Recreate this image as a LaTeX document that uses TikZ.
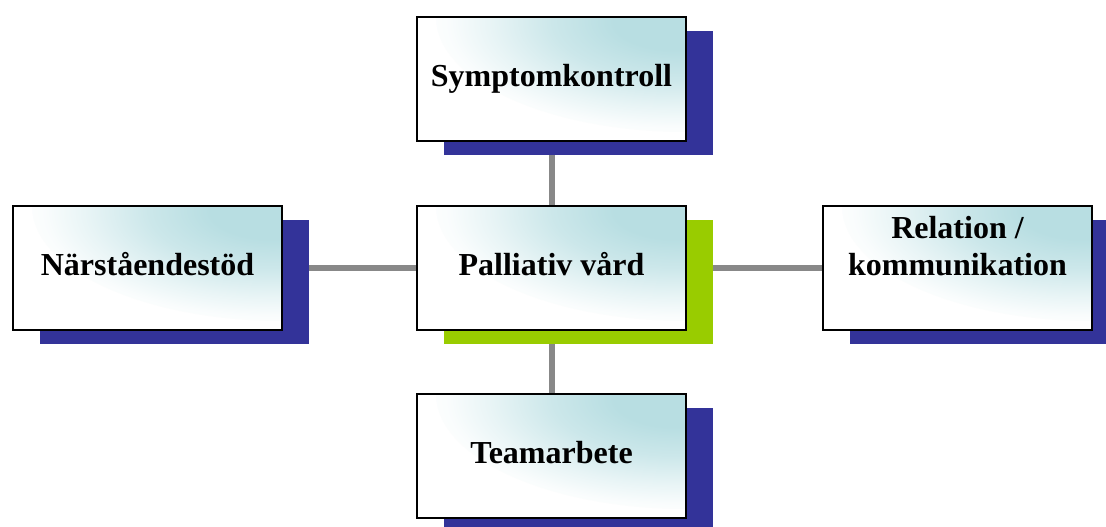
\documentclass[tikz,border=0pt]{standalone}
\usepackage{fontspec}
\setmainfont{Liberation Serif}
\usetikzlibrary{shadows,backgrounds}

\definecolor{boxcyan}{RGB}{184,222,226}
\definecolor{shadeblue}{RGB}{51,51,153}
\definecolor{shadegreen}{RGB}{153,204,0}
\definecolor{linkgray}{RGB}{136,136,136}
\pgfdeclareradialshading{boxglow}{\pgfpoint{0bp}{0bp}}{color(0bp)=(boxcyan); color(6bp)=(boxcyan); color(12bp)=(boxcyan!72!white); color(18bp)=(boxcyan!32!white); color(22bp)=(boxcyan!8!white); color(25bp)=(white); color(50bp)=(white)}

\begin{document}
\begin{tikzpicture}[x=1pt, y=-1pt,
  topic/.style={draw=black, line width=2pt, fill=white,
    path picture={\shade[shading=boxglow] (path picture bounding box.north east) ellipse (250pt and 115pt);},
    minimum width=269pt, minimum height=124pt, inner sep=2pt, align=center,
    font=\fontsize{32}{37}\selectfont\bfseries, text height=22.5pt, text depth=7.5pt},
  blueshadow/.style={general shadow={fill=shadeblue, shadow xshift=27pt, shadow yshift=-14pt}},
  greenshadow/.style={general shadow={fill=shadegreen, shadow xshift=27pt, shadow yshift=-14pt}},
  link/.style={draw=linkgray, line width=6pt}]
  \useasboundingbox (0,0) rectangle (1106,527);

  % --- Boxes (shadow first, box on top) ---
  \node[topic, blueshadow] (symptom) at (551.5, 79) {Symptomkontroll};
  \node[topic, blueshadow] (narst) at (147.5, 268) {Närståendestöd};
  \node[topic, greenshadow] (palliativ) at (551.5, 268) {Palliativ vård};
  \node[topic, blueshadow] (relation) at (957.5, 268) {Relation /\\kommunikation};
  \node[topic, blueshadow] (team) at (551.5, 456) {Teamarbete};

  % --- Connectors (behind the boxes) ---
  \begin{scope}[on background layer]
    \draw[link] (symptom) -- (palliativ);
    \draw[link] (palliativ) -- (team);
    \draw[link] (narst) -- (palliativ);
    \draw[link] (palliativ) -- (relation);
  \end{scope}
\end{tikzpicture}
\end{document}
